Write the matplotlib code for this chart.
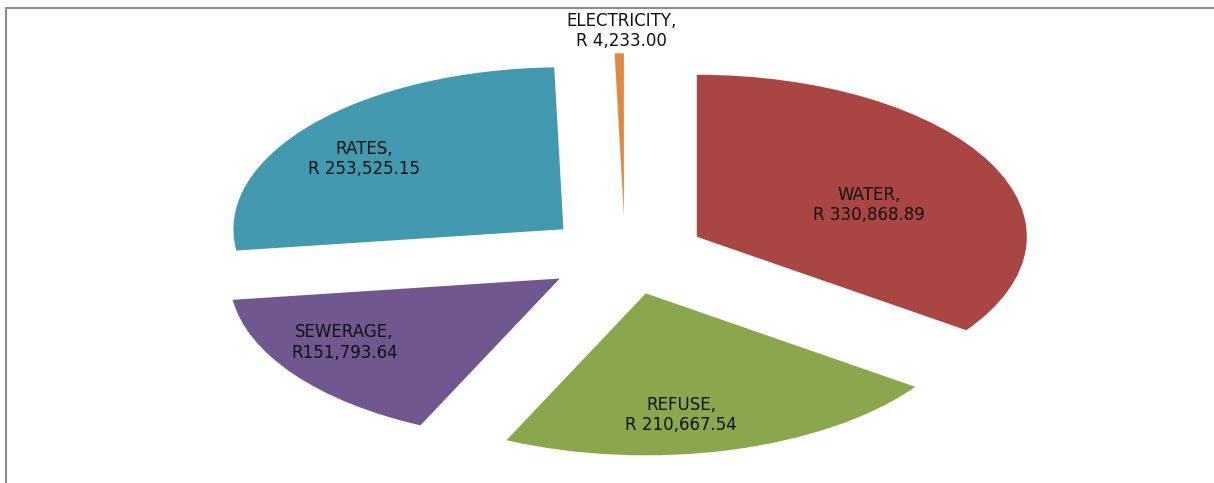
import matplotlib.pyplot as plt
from matplotlib.patches import Rectangle

categories = ["WATER", "REFUSE", "SEWERAGE", "RATES", "ELECTRICITY"]
values = [330868.89, 210667.54, 151793.64, 253525.15, 4233.00]
value_labels = ["R 330,868.89", "R 210,667.54", "R151,793.64", "R 253,525.15", "R 4,233.00"]

COLORS = ["#A94542", "#8AA74E", "#71578F", "#4399B0", "#E0883F"]
# label centres in axis units (x scaled by horizontal radius, y by vertical radius)
LABEL_POS = [(0.74, 0.31), (0.17, -0.99), (-0.85, -0.54), (-0.79, 0.59), (-0.01, 1.38)]

W, H = 1214, 483
CX, CY = 625, 255      # pie centre in pixels
RX, RY = 330, 162      # horizontal / vertical radius in pixels


def main():
    fig = plt.figure(figsize=(W / 100, H / 100), dpi=100)
    ax = fig.add_axes([0, 0, 1, 1])

    ax.pie(values, colors=COLORS, startangle=90, counterclock=False,
           explode=[0.245] * len(values), radius=1,
           wedgeprops=dict(linewidth=0))
    ax.set_aspect("auto")
    ax.set_xlim(-CX / RX, (W - CX) / RX)
    ax.set_ylim((CY - H) / RY, CY / RY)
    ax.axis("off")

    for (x, y), cat, lab in zip(LABEL_POS, categories, value_labels):
        ax.text(x, y, "{},\n{}".format(cat, lab), ha="center", va="center",
                fontsize=12, color="#111111", linespacing=1.15)

    # chart frame (right and bottom edges lie outside the picture)
    fig.patches.append(Rectangle((6, -20), W + 40, H + 20 - 8, transform=None,
                                 fill=False, edgecolor="#8c8c8c", linewidth=1.5))

    fig.savefig("out.png", dpi=100)


if __name__ == '__main__':
    main()
